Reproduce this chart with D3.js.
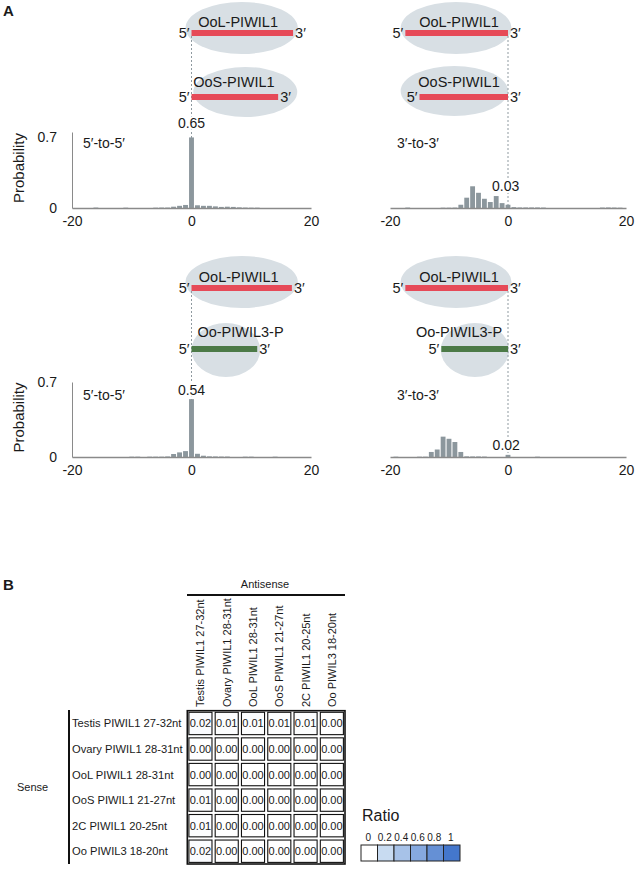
<!DOCTYPE html>
<html><head><meta charset="utf-8">
<script src="https://cdn.jsdelivr.net/npm/d3@7"></script>
<style>
body{margin:0;background:#fff;}
text{font-family:"Liberation Sans",Arial,Helvetica,sans-serif;fill:#1a1a1a;}
</style>
</head><body>
<script>
// ---------------- DATA ----------------
const offsets = [-20,-19,-18,-17,-16,-15,-14,-13,-12,-11,-10,-9,-8,-7,-6,-5,-4,-3,-2,-1,0,1,2,3,4,5,6,7,8,9,10,11,12,13,14,15,16,17,18,19,20];
// OoL-PIWIL1 vs OoS-PIWIL1, 5'-to-5'
const prob5to5_OoS = [0,0,0,0,0.004,0,0,0,0,0.003,0,0,0,0,0.003,0.004,0.004,0.012,0.02,0.028,
  0.65,
  0.025,0.02,0.02,0.015,0.01,0.012,0.01,0.006,0.004,0.003,0.003,0,0,0,0,0,0,0,0,0];
// OoL-PIWIL1 vs OoS-PIWIL1, 3'-to-3'
const prob3to3_OoS = [0,0,0,0.004,0,0,0,0,0,0.003,0.003,0.004,0.03,0.095,0.2,0.14,0.085,0.055,0.11,0.045,
  0.03,
  0.008,0.005,0.005,0.005,0.005,0.004,0,0,0,0,0,0,0,0,0,0.004,0.005,0.004,0.003,0];
// OoL-PIWIL1 vs Oo-PIWIL3-P, 5'-to-5'
const prob5to5_PIWIL3 = [0,0,0,0,0,0,0,0,0,0,0.003,0.003,0,0.003,0.003,0.003,0.005,0.028,0.043,0.055,
  0.54,
  0.03,0.012,0.006,0.005,0.004,0.004,0,0,0.003,0.003,0,0,0,0.003,0,0,0,0,0,0];
// OoL-PIWIL1 vs Oo-PIWIL3-P, 3'-to-3'
const prob3to3_PIWIL3 = [0,0.003,0,0,0,0.003,0.003,0.047,0.07,0.19,0.17,0.14,0.047,0.006,0.005,0.005,0.004,0,0,0,
  0.02,
  0,0,0,0,0.003,0,0,0,0,0,0,0,0,0,0,0,0,0,0,0];
const xTicks = [-20, 0, 20];
const yTicks = [0, 0.7];
const peakLabels = ["0.65", "0.03", "0.54", "0.02"];
const modeLabels = ["5\u2032-to-5\u2032", "3\u2032-to-3\u2032", "5\u2032-to-5\u2032", "3\u2032-to-3\u2032"];
const pairNames = [["OoL-PIWIL1","OoS-PIWIL1"],["OoL-PIWIL1","OoS-PIWIL1"],["OoL-PIWIL1","Oo-PIWIL3-P"],["OoL-PIWIL1","Oo-PIWIL3-P"]];

const heatRows = ["Testis PIWIL1 27-32nt","Ovary PIWIL1 28-31nt","OoL PIWIL1 28-31nt","OoS PIWIL1 21-27nt","2C PIWIL1 20-25nt","Oo PIWIL3 18-20nt"];
const heatCols = ["Testis PIWIL1 27-32nt","Ovary PIWIL1 28-31nt","OoL PIWIL1 28-31nt","OoS PIWIL1 21-27nt","2C PIWIL1 20-25nt","Oo PIWIL3 18-20nt"];
const heatValues = [
  [0.02,0.01,0.01,0.01,0.01,0.00],
  [0.00,0.00,0.00,0.00,0.00,0.00],
  [0.00,0.00,0.00,0.00,0.00,0.00],
  [0.01,0.00,0.00,0.00,0.00,0.00],
  [0.01,0.00,0.00,0.00,0.00,0.00],
  [0.02,0.00,0.00,0.00,0.00,0.00]
];
const legendStops = [0, 0.2, 0.4, 0.6, 0.8, 1];

// ---------------- LAYOUT ----------------
const W = 636, H = 873;
const svg = d3.select("body").append("svg").attr("width", W).attr("height", H);
const RED = "#e64a58", GREEN = "#4c7a47", ELL = "#d8dfe4", BAR = "#8c979d", AX = "#8a8a8a";

const panels = [
  {vals: prob5to5_OoS, xr:[72,311], yr:[208,132], yAxis:true, yDy:"0.71em", colors:[RED,RED],
   peak:{u:0, y:128}, mode:{x:83, y:148},
   diag:[{bar:[0,17], ell:[-1,17.8], tx:7.8, by:33, ey:28, ry:26, ty:27},
         {bar:[0,14.5], ell:[0.3,17.7], tx:7.1, by:97, ey:92, ry:25, ty:87}]},
  {vals: prob3to3_OoS, xr:[390,626], yr:[208,132], yAxis:false, colors:[RED,RED],
   peak:{u:-0.4, y:191}, mode:{x:397, y:148},
   diag:[{bar:[-17.4,0], ell:[-18.2,0.6], tx:-8.3, by:33, ey:28, ry:26, ty:27},
         {bar:[-15,0], ell:[-18.2,0], tx:-8.3, by:97, ey:91, ry:25, ty:87}]},
  {vals: prob5to5_PIWIL3, xr:[72,311], yr:[457,382], yAxis:true, yDy:"0.32em", colors:[RED,GREEN],
   peak:{u:0, y:395}, mode:{x:83, y:400},
   diag:[{bar:[0,16.8], ell:[-1,17.8], tx:7.9, by:288, ey:282, ry:26, ty:282},
         {bar:[0,11], ell:[0,11.5], tx:8.2, by:349, ey:350, ry:27, ty:337}]},
  {vals: prob3to3_PIWIL3, xr:[390,626], yr:[457,382], yAxis:false, colors:[RED,GREEN],
   peak:{u:-0.3, y:450}, mode:{x:397, y:400},
   diag:[{bar:[-17.4,0], ell:[-18.2,0.6], tx:-8.3, by:288, ey:282, ry:26, ty:282},
         {bar:[-11.3,0], ell:[-11.4,0.2], tx:-8.3, by:349, ey:350, ry:27, ty:337}]}
];

panels.forEach((p, pi) => {
  const g = svg.append("g");
  const x = d3.scaleLinear().domain([-20, 20]).range(p.xr);
  const y = d3.scaleLinear().domain([0, 0.7]).range(p.yr);
  const step = x(1) - x(0);

  // ellipses
  p.diag.forEach(d => {
    g.append("ellipse")
      .attr("cx", (x(d.ell[0]) + x(d.ell[1])) / 2).attr("cy", d.ey)
      .attr("rx", (x(d.ell[1]) - x(d.ell[0])) / 2).attr("ry", d.ry)
      .attr("fill", ELL);
  });
  // dashed guide line
  g.append("line")
    .attr("x1", x(0)).attr("x2", x(0))
    .attr("y1", p.diag[0].by + 3).attr("y2", y(0))
    .attr("stroke", "#8f9aa0").attr("stroke-width", 1).attr("stroke-dasharray", "2,2");
  // strands
  p.diag.forEach((d, i) => {
    g.append("rect")
      .attr("x", x(d.bar[0])).attr("y", d.by - 3)
      .attr("width", x(d.bar[1]) - x(d.bar[0])).attr("height", 6)
      .attr("fill", p.colors[i]);
    g.append("text").attr("x", x(d.bar[0]) - 2).attr("y", d.by + 5)
      .attr("text-anchor", "end").attr("font-size", 14.5).text("5\u2032");
    g.append("text").attr("x", x(d.bar[1]) + 2).attr("y", d.by + 5)
      .attr("text-anchor", "start").attr("font-size", 14.5).text("3\u2032");
    g.append("text").attr("x", x(d.tx)).attr("y", d.ty)
      .attr("text-anchor", "middle").attr("font-size", 14.5).text(pairNames[pi][i]);
  });

  // bars
  g.selectAll("rect.bar").data(offsets.map((o, i) => ({o, v: p.vals[i]})).filter(d => d.v > 0))
    .join("rect").attr("class", "bar")
    .attr("x", d => x(d.o) - step * 0.41).attr("width", step * 0.82)
    .attr("y", d => y(d.v)).attr("height", d => y(0) - y(d.v))
    .attr("fill", BAR);

  // x axis
  const xa = g.append("g").attr("transform", `translate(0,${p.yr[0]})`)
    .call(d3.axisBottom(x).tickValues(xTicks).tickSize(0).tickSizeOuter(0).tickPadding(8)
      .tickFormat(d => String(d)));
  xa.select(".domain").attr("stroke", AX).attr("stroke-width", 1.3);
  xa.selectAll("text").attr("font-size", 14).attr("fill", "#1a1a1a")
    .style("font-family", "'Liberation Sans',Arial,sans-serif");

  if (p.yAxis) {
    const ya = g.append("g").attr("transform", `translate(${p.xr[0]},0)`)
      .call(d3.axisLeft(y).tickValues(yTicks).tickSize(0).tickSizeOuter(0).tickPadding(15)
        .tickFormat(d => d === 0 ? "0" : "0.7"));
    ya.select(".domain").attr("stroke", AX).attr("stroke-width", 1);
    ya.selectAll("text").attr("font-size", 14).attr("fill", "#1a1a1a")
      .style("font-family", "'Liberation Sans',Arial,sans-serif")
      .attr("dy", d => d === 0 ? "0.32em" : p.yDy);
    g.append("text")
      .attr("transform", `translate(24,${(p.yr[0] + p.yr[1]) / 2 - 2}) rotate(-90)`)
      .attr("text-anchor", "middle").attr("font-size", 15).text("Probability");
  }

  // peak label
  g.append("text").attr("x", x(p.peak.u)).attr("y", p.peak.y)
    .attr("text-anchor", "middle").attr("font-size", 14)
    .attr("stroke", "#fff").attr("stroke-width", 4).attr("paint-order", "stroke")
    .text(peakLabels[pi]);
  // mode label
  g.append("text").attr("x", p.mode.x).attr("y", p.mode.y)
    .attr("font-size", 14).text(modeLabels[pi]);
});

// panel letters
svg.append("text").attr("x", 3).attr("y", 16).attr("font-size", 15).attr("font-weight", "bold").text("A");
svg.append("text").attr("x", 3).attr("y", 590).attr("font-size", 15).attr("font-weight", "bold").text("B");

// ---------------- HEATMAP ----------------
const color = d3.scaleLinear().domain([0, 0.2, 1]).range(["#ffffff", "#c8dbf1", "#4477cc"]);
const hx = d3.scaleBand().domain(heatCols).range([187.3, 345]);
const hy = d3.scaleBand().domain(heatRows).range([710.7, 864]);
const hg = svg.append("g");
const cells = [];
heatRows.forEach((r, i) => heatCols.forEach((c, j) => cells.push({r, c, v: heatValues[i][j]})));

hg.append("rect").attr("x", 187.3).attr("y", 710.7)
  .attr("width", hx.range()[1] - hx.range()[0]).attr("height", hy.range()[1] - hy.range()[0])
  .attr("fill", "none").attr("stroke", "#111").attr("stroke-width", 1.6);
hg.selectAll("rect.cell").data(cells).join("rect").attr("class", "cell")
  .attr("x", d => hx(d.c) + 1.6).attr("y", d => hy(d.r) + 1.6)
  .attr("width", hx.bandwidth() - 3.2).attr("height", hy.bandwidth() - 3.2)
  .attr("fill", d => color(d.v)).attr("stroke", "#111").attr("stroke-width", 1.1);
hg.selectAll("text.val").data(cells).join("text").attr("class", "val")
  .attr("x", d => hx(d.c) + hx.bandwidth() / 2).attr("y", d => hy(d.r) + hy.bandwidth() / 2 + 4)
  .attr("text-anchor", "middle").attr("font-size", 11).text(d => d.v.toFixed(2));

// column labels
hg.selectAll("text.col").data(heatCols).join("text").attr("class", "col")
  .attr("transform", d => `translate(${hx(d) + hx.bandwidth() / 2 + 4},707) rotate(-90)`)
  .attr("font-size", 11).text(d => d);
// row labels
hg.selectAll("text.row").data(heatRows).join("text").attr("class", "row")
  .attr("x", 72).attr("y", d => hy(d) + hy.bandwidth() / 2 + 4)
  .attr("font-size", 11.2).text(d => d);

hg.append("text").attr("x", 265).attr("y", 588).attr("text-anchor", "middle").attr("font-size", 11).text("Antisense");
hg.append("line").attr("x1", 187).attr("x2", 345).attr("y1", 595).attr("y2", 595).attr("stroke", "#111").attr("stroke-width", 2);
hg.append("line").attr("x1", 69).attr("x2", 69).attr("y1", 710).attr("y2", 864).attr("stroke", "#111").attr("stroke-width", 2);
hg.append("text").attr("x", 17).attr("y", 791).attr("font-size", 11).text("Sense");

// legend
const lg = svg.append("g");
lg.append("text").attr("x", 362).attr("y", 821).attr("font-size", 16).text("Ratio");
const lw = 16.5;
lg.selectAll("rect").data(legendStops).join("rect")
  .attr("x", (d, i) => 361 + i * lw).attr("y", 845).attr("width", lw).attr("height", 16)
  .attr("fill", d => color(d)).attr("stroke", "#222").attr("stroke-width", 1);
lg.selectAll("text.lt").data(legendStops).join("text").attr("class", "lt")
  .attr("x", (d, i) => 361 + i * lw + lw / 2 - 1).attr("y", 841)
  .attr("text-anchor", "middle").attr("font-size", 10).text(d => String(d));
</script>
</body></html>
